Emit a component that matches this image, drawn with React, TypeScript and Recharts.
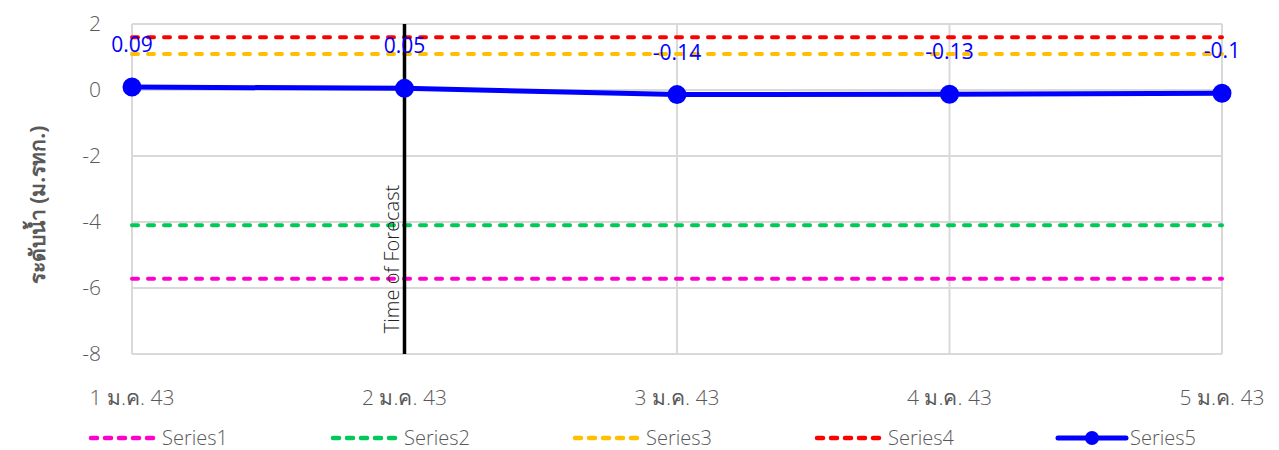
import React from "react";
import {
  LineChart,
  Line,
  XAxis,
  YAxis,
  CartesianGrid,
  ReferenceLine,
  LabelList,
} from "recharts";

const dates = ["1 ม.ค. 43", "2 ม.ค. 43", "3 ม.ค. 43", "4 ม.ค. 43", "5 ม.ค. 43"];
const series1 = [-5.72, -5.72, -5.72, -5.72, -5.72];
const series2 = [-4.1, -4.1, -4.1, -4.1, -4.1];
const series3 = [1.09, 1.09, 1.09, 1.09, 1.09];
const series4 = [1.6, 1.6, 1.6, 1.6, 1.6];
const series5 = [0.09, 0.05, -0.14, -0.13, -0.1];
const yTicks = [2, 0, -2, -4, -6, -8];

const data = dates.map((d, i) => ({
  date: d,
  Series1: series1[i],
  Series2: series2[i],
  Series3: series3[i],
  Series4: series4[i],
  Series5: series5[i],
}));

const dashed = [
  { key: "Series1", color: "#ff00cc" },
  { key: "Series2", color: "#00c85a" },
  { key: "Series3", color: "#ffc000" },
  { key: "Series4", color: "#ff0000" },
];

const FONT = "'Open Sans', 'Noto Sans', sans-serif";
const GREY = "#595959";

const XTick = ({ x, y, payload }: any) => (
  <text x={x} y={y + 51} textAnchor="middle" fill={GREY} fontSize={21} fontWeight={300} fontFamily={FONT}>
    {payload.value}
  </text>
);

const YTick = ({ y, payload }: any) => (
  <text x={101} y={y + 7} textAnchor="end" fill={GREY} fontSize={21} fontWeight={300} fontFamily={FONT}>
    {payload.value}
  </text>
);

const ValueLabel = ({ x, y, value }: any) => (
  <text x={x} y={y - 35} textAnchor="middle" fill="#0000ff" fontSize={21} fontFamily={FONT}>
    {value}
  </text>
);

const ForecastLabel = ({ viewBox }: any) => {
  const x = viewBox.x - 13;
  const y = 259;
  return (
    <text
      x={x}
      y={y}
      transform={`rotate(-90 ${x} ${y})`}
      textAnchor="middle"
      dominantBaseline="central"
      fill="#222"
      fontSize={20}
      fontWeight={300}
      fontFamily={FONT}
    >
      Time of Forecast
    </text>
  );
};

const YLabel = () => {
  const x = 37;
  const y = 205;
  return (
    <text
      x={x}
      y={y}
      transform={`rotate(-90 ${x} ${y})`}
      textAnchor="middle"
      dominantBaseline="central"
      fill={GREY}
      fontSize={21}
      fontWeight="bold"
      fontFamily={FONT}
    >
      ระดับน้ำ (ม.รทก.)
    </text>
  );
};

export default function App() {
  const legendItems = [...dashed.map((s) => ({ ...s, dash: true })), { key: "Series5", color: "#0000ff", dash: false }];
  return (
    <div style={{ position: "absolute", left: 0, top: 0, width: 1279, height: 450, background: "#fff" }}>
      <LineChart
        width={1279}
        height={450}
        data={data}
        margin={{ top: 24, right: 57, left: 60, bottom: 0 }}
      >
        <CartesianGrid stroke="#d9d9d9" strokeWidth={2} />
        <XAxis
          dataKey="date"
          axisLine={false}
          tickLine={false}
          tickSize={0}
          tickMargin={0}
          height={96}
          tick={<XTick />}
          interval={0}
        />
        <YAxis
          domain={[-8, 2]}
          ticks={yTicks}
          axisLine={false}
          tickLine={false}
          width={72}
          tick={<YTick />}
          label={<YLabel />}
        />
        {dashed.map((s) => (
          <Line
            key={s.key}
            dataKey={s.key}
            stroke={s.color}
            strokeWidth={4}
            strokeDasharray="6 10"
            strokeLinecap="round"
            dot={false}
            isAnimationActive={false}
          />
        ))}
        <ReferenceLine
          x="2 ม.ค. 43"
          stroke="#000"
          strokeWidth={3.5}
          label={<ForecastLabel />}
        />
        <Line
          dataKey="Series5"
          stroke="#0000ff"
          strokeWidth={5}
          dot={{ r: 7, fill: "#0000ff", stroke: "#0000ff" }}
          isAnimationActive={false}
        >
          <LabelList dataKey="Series5" content={<ValueLabel />} />
        </Line>
      </LineChart>
      {legendItems.map((s, i) => (
        <div
          key={s.key}
          style={{
            position: "absolute",
            left: 87 + i * 242,
            top: 424,
            display: "flex",
            alignItems: "center",
            fontFamily: FONT,
            fontSize: 20,
            fontWeight: 300,
            color: GREY,
          }}
        >
          <svg width={74} height={24}>
            {s.dash ? (
              <line x1={4} y1={12} x2={70} y2={12} stroke={s.color} strokeWidth={4.5} strokeDasharray="6 8" strokeLinecap="round" />
            ) : (
              <>
                <line x1={3} y1={12} x2={71} y2={12} stroke={s.color} strokeWidth={5} strokeLinecap="round" />
                <circle cx={37} cy={12} r={7} fill={s.color} />
              </>
            )}
          </svg>
          <span style={{ marginLeft: 1 }}>{s.key}</span>
        </div>
      ))}
    </div>
  );
}
